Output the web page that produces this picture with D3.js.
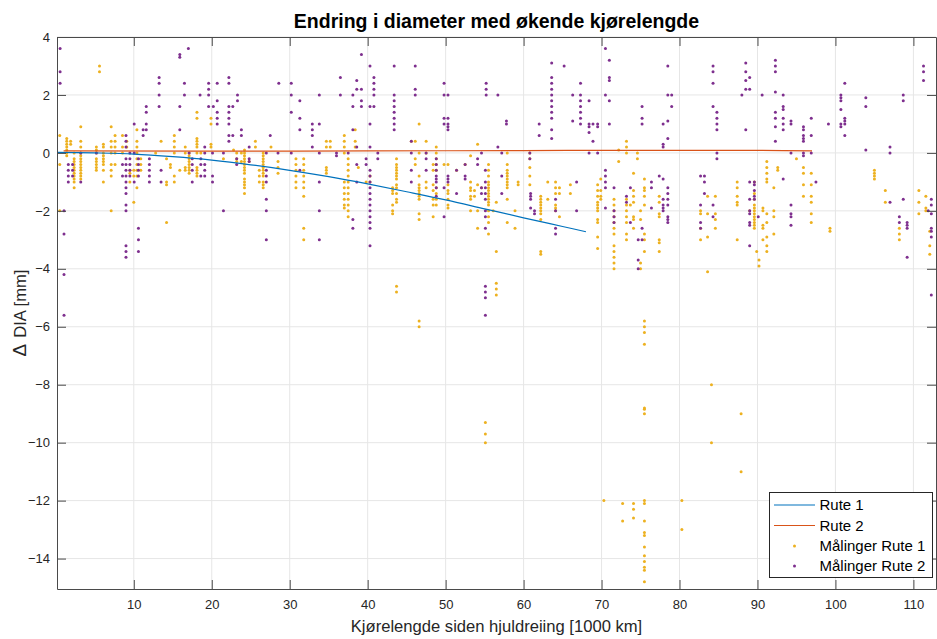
<!DOCTYPE html>
<html lang="no">
<head>
<meta charset="UTF-8">
<title>Endring i diameter</title>
<script src="https://cdn.jsdelivr.net/npm/d3@7"></script>
<style>
    body { margin: 0; background: #fff; }
    text { font-family: "Liberation Sans", Arial, Helvetica, sans-serif; }
</style>
</head>
<body>
<svg id="chart" width="937" height="639"></svg>
<script>
// fitted curves
const rute1FitX = [0.25, 5, 10, 15, 20, 25, 30, 35, 40, 45, 50, 55, 60, 65, 68];
const rute1FitY = [0.02, 0.0, -0.04, -0.13, -0.25, -0.41, -0.6, -0.82, -1.07, -1.34, -1.62, -1.93, -2.24, -2.54, -2.72];
const rute2FitX = [1, 20, 40, 60, 75, 90, 97];
const rute2FitY = [0.07, 0.06, 0.07, 0.08, 0.09, 0.09, 0.07];

// measurements: [km, [delta dia values]]
const maalingerRute1 = [
    [0.5, [0.6, -0.4, -2.0]],
    [1.4, [0.5, 0.4, 0.3, 0.2, 0.1, 0.0, -0.1]],
    [1.9, [0.4, 0.3]],
    [2.35, [0.0, -0.2, -0.3, -0.4, -0.5, -0.6, -0.7, -0.8, -0.9, -1.0, -1.2]],
    [3.2, [0.9, 0.4, 0.2, 0.0, -0.1, -0.2, -0.3, -0.4, -0.5, -0.6, -0.7, -0.8, -0.9]],
    [5.2, [0.2, 0.1, 0.0, -0.2, -0.3, -0.4, -0.5, -0.6]],
    [5.6, [3.0, 2.8]],
    [6.1, [0.3, 0.2, 0.0, -0.1, -0.2, -0.3, -0.4, -0.6, -1.0]],
    [7.1, [0.9, 0.4, 0.2, 0.0, -0.4, -0.6, -0.8, -2.0]],
    [7.6, [0.6, 0.4, 0.2, 0.0, -0.4]],
    [8.55, [0.6, 0.2, 0.0]],
    [9.1, [0.4, 0.2]],
    [9.5, [-0.6, -0.7, -1.0]],
    [10.0, [-0.6, -0.8, -1.7]],
    [10.4, [0.8, 0.4, 0.2, 0.0, -0.2, -0.4, -0.6, -0.8, -1.2]],
    [10.9, [-0.2, -0.4, -0.6]],
    [12.8, [0.0]],
    [13.5, [0.4]],
    [14.2, [-0.2, -1.0, -1.1, -2.4]],
    [14.7, [-0.4, -0.5]],
    [15.2, [0.6, 0.4, 0.2, 0.0, -0.8, -1.0]],
    [15.9, [-0.6]],
    [16.6, [0.2, 0.0, -0.5, -0.6]],
    [17.1, [0.0, -0.1, -0.2, -0.3, -0.4, -0.5, -0.6, -0.7]],
    [18.1, [1.4, 1.2, 0.5, 0.4, 0.3, 0.2, 0.0, -0.5, -0.6, -0.7, -0.8]],
    [18.6, [0.0]],
    [19.9, [1.2, 1.0, 0.3, 0.2]],
    [21.5, [-0.2]],
    [22.8, [0.1]],
    [23.2, [0.0, -0.2, -0.3]],
    [23.8, [0.0, -0.3]],
    [24.2, [0.1, 0.0, -0.1, -0.2, -0.3, -0.4, -0.5, -0.6, -0.7, -0.9, -1.0, -1.1, -1.2, -1.4]],
    [24.8, [-0.3]],
    [25.6, [0.4, 0.2]],
    [26.1, [-0.6, -0.8, -1.0]],
    [26.6, [0.0, -0.1, -0.2, -0.3, -0.4, -0.5, -0.6, -0.7, -0.8, -1.0, -1.1, -1.2]],
    [27.6, [0.2]],
    [28.5, [-0.3, -0.5, -0.7]],
    [30.8, [-0.2, -0.4, -0.6, -0.8, -1.0, -1.2]],
    [31.8, [-0.2, -0.4, -0.6, -0.8, -1.0, -1.2, -1.5, -2.6, -3.0]],
    [34.7, [0.4, 0.2, -0.5, -0.6, -0.7]],
    [35.2, [0.4, 0.2]],
    [37.0, [0.6, 0.4, 0.2, 0.0, -1.0, -1.2, -1.4, -1.6, -1.8, -1.9]],
    [37.5, [-0.2, -0.4, -0.6, -0.8, -1.0, -1.2, -1.4, -1.6, -1.8, -2.0, -2.2]],
    [38.4, [0.8, 0.4, 0.2]],
    [38.8, [-0.5]],
    [39.8, [-1.0]],
    [40.3, [-0.8, -1.0]],
    [43.2, [-1.2, -1.3, -1.4, -1.8, -2.0, -2.1]],
    [43.7, [-0.2, -0.4, -0.5, -0.6, -0.7, -0.8, -0.9, -1.1, -1.2, -1.4, -1.6, -1.7, -4.6, -4.8]],
    [45.6, [0.4]],
    [46.1, [0.4, -0.2, -0.4]],
    [46.6, [1.0, 0.0, -0.8, -1.1, -1.2, -1.3, -1.4, -1.5, -1.6, -2.1, -2.3, -5.8, -6.0]],
    [47.5, [0.4, 0.0, -1.0, -1.2]],
    [48.4, [-0.4, -0.6, -1.1, -1.3, -1.6, -1.8, -2.2]],
    [48.8, [0.2, 0.0, -0.2, -0.4, -0.6, -1.2, -1.4, -1.6, -1.8]],
    [49.8, [-0.4]],
    [50.3, [-0.4, -1.1, -1.3, -1.4, -1.6, -1.8, -1.9]],
    [51.4, [-0.6]],
    [52.5, [-0.4]],
    [53.2, [-0.1, -1.0, -1.2, -1.3, -1.5, -1.6, -2.0]],
    [53.7, [-1.3, -1.5]],
    [54.1, [0.3, -1.1, -2.0, -2.6]],
    [54.6, [-1.2]],
    [55.1, [-9.3, -9.7, -10.0]],
    [55.5, [-0.4, -0.6, -0.8, -1.0, -1.1, -1.2, -1.3, -1.4, -1.5, -1.6, -1.7, -1.8, -2.0, -2.2, -2.4, -2.8]],
    [56.1, [-2.0]],
    [56.5, [-1.7, -3.4, -4.5, -4.7, -4.9]],
    [57.9, [0.0, -0.4, -0.6, -0.7, -0.8, -0.9, -1.0, -1.1, -1.2, -1.6, -2.4]],
    [58.9, [-2.0, -2.6]],
    [59.3, [-1.0, -1.1]],
    [60.8, [0.0, -0.2, -0.5, -0.8, -1.1]],
    [62.2, [-1.5, -1.6, -1.7, -1.8, -1.9, -2.0, -2.1, -2.3, -3.4, -3.5]],
    [63.1, [-1.0, -1.6]],
    [64.1, [-1.0, -1.2, -1.4, -1.8, -1.9, -2.0]],
    [64.6, [-1.2, -1.4, -2.2]],
    [66.0, [-1.1, -1.4]],
    [69.5, [-1.1, -1.3, -1.5, -1.7, -1.8, -1.9, -2.0, -2.3, -2.4, -2.9, -3.3]],
    [69.9, [-0.9, -1.3, -1.5, -1.6]],
    [70.3, [-12.0]],
    [71.6, [-1.6, -1.8, -2.0, -2.2, -2.4, -2.6, -2.8, -3.2, -3.4, -3.6, -3.8, -4.0]],
    [72.2, [0.1, -0.3]],
    [72.7, [-12.1, -12.7]],
    [73.2, [0.4, 0.2, 0.0, -1.6, -1.8, -2.0, -2.2, -2.4, -2.8, -3.0]],
    [73.7, [-1.8]],
    [74.1, [-0.7, -1.3, -1.5, -1.7, -2.2, -2.3, -2.6, -12.1, -12.3, -12.6]],
    [74.6, [0.0, -0.2]],
    [75.0, [-2.0, -2.3, -3.8, -4.0]],
    [75.5, [-0.9, -1.2, -1.3, -1.5, -1.8, -2.8, -3.0, -3.4, -5.8, -6.0, -6.2, -6.6, -8.8, -8.85, -9.0,
            -12.0, -12.1, -12.7, -13.1, -13.2, -13.6, -13.9, -14.1, -14.3, -14.4, -14.8]],
    [77.4, [-1.5, -1.7, -2.1, -2.2, -3.0, -3.1, -3.4]],
    [80.3, [-12.0, -13.0]],
    [82.7, [-2.0, -2.1, -2.6, -3.0]],
    [83.6, [-1.5, -2.1, -2.9, -4.1]],
    [84.1, [-8.0, -10.0]],
    [84.6, [-1.5, -2.1, -2.3, -2.6]],
    [87.4, [-1.0, -1.2, -1.5, -1.7, -1.8, -3.0]],
    [87.9, [-9.0, -11.0]],
    [89.0, [-2.0]],
    [89.6, [-1.0, -1.4, -1.6, -1.8, -1.9, -2.0, -2.1, -2.2, -2.3, -2.4, -2.5, -2.6]],
    [89.9, [-3.4]],
    [90.2, [-3.7, -3.9]],
    [90.7, [-1.9, -2.0, -2.5, -2.6, -3.0]],
    [91.2, [-0.3, -0.5, -0.7, -0.9, -1.0, -2.1, -2.4, -2.9, -3.2, -3.4]],
    [92.1, [-1.2, -2.0, -2.2, -2.8]],
    [92.6, [-0.5, -0.6]],
    [95.0, [-0.2]],
    [95.9, [-0.5, -0.7, -1.1, -1.5]],
    [96.9, [-0.7, -1.1, -1.5, -1.7, -2.1, -2.4]],
    [99.3, [-2.6, -2.7]],
    [105.0, [-0.6, -0.7, -0.8, -0.9]],
    [106.4, [-1.3, -1.7]],
    [108.2, [-2.6, -2.8, -3.0]],
    [110.7, [-1.3, -1.7, -2.1]],
    [111.6, [-1.5, -1.9, -2.0]],
    [112.1, [-2.7, -3.2, -3.5]]
];

const maalingerRute2 = [
    [0.55, [3.6, 2.8, 2.4]],
    [1.05, [-2.0, -2.8, -4.2, -5.6]],
    [1.6, [-0.4, -0.6, -0.8, -1.0]],
    [2.15, [-0.4, -0.6, -0.8]],
    [3.2, [0.0, -1.0]],
    [5.2, [0.0]],
    [8.55, [-0.4, -0.8]],
    [9.0, [0.6, 0.4, 0.2, -0.2, -0.4, -0.6, -0.8, -1.0, -1.2, -1.4, -1.8, -2.0, -3.2, -3.4, -3.6]],
    [9.5, [0.0, -0.2, -0.4, -0.6, -0.8]],
    [10.05, [1.0, 0.0, -1.0]],
    [10.6, [-0.2, -0.4, -0.6, -0.8, -2.6, -3.0, -3.4]],
    [11.2, [0.8, 0.6]],
    [11.6, [1.6, 1.4, 1.0, 0.8]],
    [12.0, [-0.2, -0.4, -0.6, -0.8, -1.0]],
    [13.25, [2.6, 2.4, 2.0, 1.6]],
    [13.5, [-0.6, -1.0]],
    [15.9, [3.4, 3.3, 1.6, 0.8]],
    [16.5, [2.4, 2.0]],
    [17.0, [3.6]],
    [17.1, [0.0]],
    [17.5, [-0.2, -0.4, -0.6, -1.0]],
    [18.5, [2.0]],
    [18.6, [-0.2, -0.4, -0.8]],
    [19.1, [0.2, 0.0, -0.4, -0.6, -0.8]],
    [19.6, [2.4, 2.2, 2.0, 1.6]],
    [20.1, [0.0, -0.8, -1.0]],
    [20.2, [1.6]],
    [20.7, [2.4, 1.8, 1.4, 1.2, 1.0]],
    [21.5, [0.0, -2.0]],
    [22.2, [2.6, 2.4, 1.6, 1.4, 1.2, 1.0, 0.6, 0.4]],
    [22.7, [1.6, 0.6]],
    [23.2, [-0.2, -0.4]],
    [23.3, [2.0, 1.8]],
    [23.8, [0.8, 0.6]],
    [24.8, [0.2, -0.2, -0.3]],
    [27.0, [0.0, -0.6, -0.8, -1.0, -1.6, -2.0, -3.0]],
    [27.5, [0.6]],
    [28.5, [0.0]],
    [28.6, [2.4]],
    [30.2, [2.4, 2.0, 1.4, 0.0]],
    [31.3, [1.8, 1.2, 0.8, -0.6]],
    [32.9, [1.0, 0.8, 0.6, 0.2]],
    [33.8, [2.0, 1.0, 0.0, -1.0, -2.0, -3.0]],
    [36.0, [0.0, -0.1]],
    [36.5, [2.6, 2.0]],
    [37.5, [0.0]],
    [38.1, [2.0, 1.6, 0.8, -2.3, -2.6]],
    [38.6, [2.5, 2.2, 0.2, -0.4, -1.0]],
    [39.2, [3.4, 2.2, 1.8, 1.6]],
    [39.8, [-0.2, -0.4]],
    [40.3, [3.0, 1.6, 1.0, 0.2, -0.6, -0.8, -1.0, -1.2, -1.4, -1.6, -1.8, -2.0, -2.2, -2.4, -2.6, -3.2]],
    [40.8, [2.6, 2.4, 2.2, 2.0, 1.6]],
    [41.3, [0.0, -0.2]],
    [43.4, [3.0, 2.0, 1.8, 1.6, 1.4, 1.2, 1.0, 0.8]],
    [45.6, [0.4, 0.0, -0.6, -1.0]],
    [46.1, [3.0, 2.2, 2.0]],
    [47.5, [0.0, -0.2, -0.6]],
    [48.8, [-0.2, -0.4, -0.6, -0.8, -0.9, -1.0, -1.2, -1.5]],
    [49.8, [2.4, 2.0, 1.2, 1.0, -1.2, -2.2]],
    [50.3, [2.0, 1.2, 1.0, 0.9, 0.8, -0.8, -0.9, -1.0]],
    [51.4, [-0.6, -1.4]],
    [52.5, [-0.4, -0.8, -0.9]],
    [54.1, [-0.2, -0.4]],
    [54.6, [0.0, -1.2, -1.4]],
    [55.1, [-0.6, -1.0, -1.2, -1.4, -1.6, -2.0, -2.2, -2.6, -4.6, -4.8, -5.0, -5.6]],
    [55.2, [2.4, 2.2, 2.0]],
    [56.7, [2.0, 0.2]],
    [57.2, [0.0, -0.8, -1.4]],
    [57.8, [1.1, 1.0]],
    [60.8, [0.0, -0.2]],
    [60.9, [-1.4, -1.5, -1.6, -1.9]],
    [61.4, [-2.0, -2.1]],
    [62.0, [1.0, 0.6]],
    [63.6, [3.1, 2.6, 2.4, 2.2, 2.0, 1.8, 1.6, 1.4, 1.2, 0.8, 0.5]],
    [64.1, [-1.6, -2.0, -2.6, -2.8]],
    [65.2, [3.0]],
    [66.3, [2.0, 1.1]],
    [66.8, [-1.0, -2.0]],
    [67.3, [2.4, 2.0, 1.8, 1.6, 1.4, 1.2, 1.0]],
    [68.4, [1.8, 1.0, 0.9, 0.7, 0.0]],
    [68.9, [1.0, 0.4]],
    [69.5, [1.0, 0.9, 0.0]],
    [70.5, [3.6, 2.0, -0.6, -0.8, -1.0, -1.2, -1.9]],
    [71.0, [3.2, 2.6, 2.5, 1.8, 1.0]],
    [71.6, [-1.2, -2.0, -2.2, -2.4]],
    [73.2, [-1.5, -1.7]],
    [73.7, [-1.2, -2.4]],
    [74.7, [-3.0, -3.7, -4.0]],
    [75.2, [1.6, 1.2, 1.0, -2.6, -3.0]],
    [76.4, [-1.0, -1.2, -1.9]],
    [77.4, [-0.8]],
    [77.9, [1.0, 0.3, 0.2, -0.9, -1.6, -1.8, -1.9, -2.0]],
    [78.5, [3.0, 2.0, 1.1, 0.5, -1.2, -1.4, -1.6, -1.8, -2.2, -2.3, -2.4]],
    [79.0, [2.0, 1.6]],
    [82.7, [-0.8, -1.8, -2.4, -2.6]],
    [83.2, [-0.8, -1.0, -1.4]],
    [84.3, [3.0, 2.8, 2.4, 1.6, -1.8, -2.2]],
    [84.8, [1.4, 1.2, 1.0, 0.8, 0.0, -0.2]],
    [88.0, [2.0]],
    [88.5, [3.1, 2.8, 2.5, 2.2, 0.8]],
    [89.0, [2.6, 2.2, -1.0, -1.6, -2.0, -2.1, -2.4, -2.5, -3.2]],
    [89.6, [-1.0, -1.1, -1.3, -1.5, -1.6]],
    [90.1, [-2.2]],
    [90.6, [2.0]],
    [92.3, [3.2, 3.0, 2.8, 2.1, 1.4, 1.2, 0.9, 0.4]],
    [93.3, [2.0, 1.6, 1.5, 1.2, 1.0, 0.8, -0.9]],
    [94.3, [1.1, 1.0, 0.0, -1.8, -2.1, -2.2, -2.5]],
    [95.9, [0.9, 0.8, 0.6, 0.5, 0.4, 0.0, -0.1]],
    [96.9, [1.2, 0.6, 0.0]],
    [97.5, [-1.0]],
    [99.1, [1.0]],
    [100.7, [2.0, 1.9, 1.8, 1.5, 1.0, 0.9]],
    [101.2, [2.4, 1.2, 1.1, 1.0, 0.6]],
    [103.9, [1.9, 1.6, 0.1]],
    [107.0, [0.2, 0.0, -1.7]],
    [108.2, [-2.2, -2.4]],
    [108.7, [2.0, 1.8, -1.6]],
    [109.2, [-2.4, -2.5, -2.6, -3.6]],
    [111.3, [3.0, 2.8, 2.5]],
    [111.9, [-2.0]],
    [112.3, [-1.6, -1.8, -2.1, -2.6, -2.7, -2.9, -4.9]]
];

const xTicks = [10, 20, 30, 40, 50, 60, 70, 80, 90, 100, 110];
const yTicks = [-14, -12, -10, -8, -6, -4, -2, 0, 2, 4];
const legendLabels = ["Rute 1", "Rute 2", "Målinger Rute 1", "Målinger Rute 2"];

const blue = "#0072BD", red = "#D95319", orange = "#EDB120", purple = "#7E2F8E";

const axLeft = 57, axRight = 936, axTop = 37, axBottom = 589;
const dotR = 1.5;

const svg = d3.select("#chart");
const x = d3.scaleLinear().domain([0.15, 112.9]).range([axLeft, axRight]);
const y = d3.scaleLinear().domain([-15.05, 4]).range([axBottom, axTop]);

// grid
svg.append("g").selectAll("line.vgrid")
    .data(xTicks).enter().append("line")
    .attr("x1", d => x(d)).attr("x2", d => x(d))
    .attr("y1", axTop).attr("y2", axBottom)
    .attr("stroke", "#e6e6e6").attr("stroke-width", 1);
svg.append("g").selectAll("line.hgrid")
    .data(yTicks).enter().append("line")
    .attr("x1", axLeft).attr("x2", axRight)
    .attr("y1", d => y(d)).attr("y2", d => y(d))
    .attr("stroke", "#e6e6e6").attr("stroke-width", 1);

function flatten(cols) {
    const pts = [];
    cols.forEach(c => c[1].forEach(v => pts.push([c[0], v])));
    return pts;
}

const plot = svg.append("g");

plot.selectAll("circle.r1")
    .data(flatten(maalingerRute1)).enter().append("circle")
    .attr("class", "r1")
    .attr("cx", d => x(d[0])).attr("cy", d => y(d[1]))
    .attr("r", dotR).attr("fill", orange);

plot.selectAll("circle.r2")
    .data(flatten(maalingerRute2)).enter().append("circle")
    .attr("class", "r2")
    .attr("cx", d => x(d[0])).attr("cy", d => y(d[1]))
    .attr("r", dotR).attr("fill", purple);

const line = d3.line().x(d => x(d[0])).y(d => y(d[1])).curve(d3.curveMonotoneX);

plot.append("path")
    .datum(rute1FitX.map((v, i) => [v, rute1FitY[i]]))
    .attr("d", line).attr("fill", "none")
    .attr("stroke", blue).attr("stroke-width", 1.2);

plot.append("path")
    .datum(rute2FitX.map((v, i) => [v, rute2FitY[i]]))
    .attr("d", line).attr("fill", "none")
    .attr("stroke", red).attr("stroke-width", 1.2);

// axes, ticks pointing inward on all four sides
const axisColor = "#4a4a4a";
function styleAxis(g) {
    g.select(".domain").attr("stroke", axisColor).attr("stroke-width", 1);
    g.selectAll(".tick line").attr("stroke", axisColor).attr("stroke-width", 1);
    g.selectAll(".tick text").attr("fill", "#262626")
        .style("font-size", "13px")
        .style("font-family", "'Liberation Sans', Arial, sans-serif");
}

svg.append("g").attr("transform", `translate(0,${axBottom})`)
    .call(d3.axisBottom(x).tickValues(xTicks).tickSize(-9).tickSizeOuter(0).tickPadding(11))
    .call(styleAxis);
svg.append("g").attr("transform", `translate(0,${axTop})`)
    .call(d3.axisTop(x).tickValues(xTicks).tickSize(-9).tickSizeOuter(0).tickFormat(""))
    .call(styleAxis);
svg.append("g").attr("transform", `translate(${axLeft},0)`)
    .call(d3.axisLeft(y).tickValues(yTicks).tickSize(-9).tickSizeOuter(0).tickPadding(7))
    .call(styleAxis);
svg.append("g").attr("transform", `translate(${axRight},0)`)
    .call(d3.axisRight(y).tickValues(yTicks).tickSize(-9).tickSizeOuter(0).tickFormat(""))
    .call(styleAxis);

// title and labels
svg.append("text")
    .attr("x", (axLeft + axRight) / 2).attr("y", 27.5)
    .attr("text-anchor", "middle")
    .style("font-size", "19.5px").style("font-weight", "bold")
    .attr("fill", "#000")
    .text("Endring i diameter med økende kjørelengde");

svg.append("text")
    .attr("x", (axLeft + axRight) / 2).attr("y", 632)
    .attr("text-anchor", "middle")
    .style("font-size", "16.6px")
    .attr("fill", "#262626")
    .text("Kjørelengde siden hjuldreiing [1000 km]");

const yLab = svg.append("text")
    .attr("transform", `translate(26,${(axTop + axBottom) / 2}) rotate(-90)`)
    .attr("text-anchor", "middle")
    .style("font-size", "16.6px")
    .attr("fill", "#262626");
yLab.append("tspan").style("font-size", "19px").text("\u0394");
yLab.append("tspan").attr("dx", 6).text("DIA [mm]");

// legend
const legend = svg.append("g");
legend.append("rect")
    .attr("x", 769.5).attr("y", 492.5).attr("width", 163).attr("height", 85)
    .attr("fill", "#fff").attr("stroke", "#262626").attr("stroke-width", 1);

const rowY = [505, 525.5, 546, 566];
const rowColors = [blue, red, orange, purple];
legendLabels.forEach((lab, i) => {
    if (i < 2) {
        legend.append("line")
            .attr("x1", 774).attr("x2", 815)
            .attr("y1", rowY[i]).attr("y2", rowY[i])
            .attr("stroke", rowColors[i]).attr("stroke-width", 1.2);
    } else {
        legend.append("circle")
            .attr("cx", 794.5).attr("cy", rowY[i])
            .attr("r", dotR).attr("fill", rowColors[i]);
    }
    legend.append("text")
        .attr("x", 819.5).attr("y", rowY[i] + 5.3)
        .style("font-size", "15px")
        .attr("fill", "#000")
        .text(lab);
});
</script>
</body>
</html>
